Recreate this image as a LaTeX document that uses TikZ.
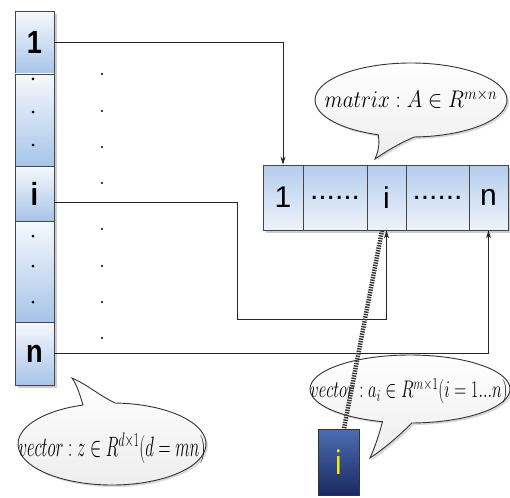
\RequirePackage{fix-cm}
\documentclass[tikz,border=0pt]{standalone}
\usepackage{fontspec}
\usepackage{graphicx}
\setsansfont{Liberation Sans}
\usetikzlibrary{arrows.meta,shadows}
\definecolor{cellblue}{HTML}{A6C4E8}
\definecolor{celltop}{HTML}{F6F9FD}
\definecolor{mblue}{HTML}{B4CDEE}
\definecolor{mlight}{HTML}{EEF3FA}
\definecolor{boxtop}{HTML}{4C6DB2}
\definecolor{boxbot}{HTML}{1A2A62}
\definecolor{edge}{HTML}{454545}
\newcommand{\squeeze}[2]{\scalebox{#1}[1]{#2}}
\tikzset{
  colcell/.style={rectangle, draw=edge, line width=0.8pt, top color=celltop,
    bottom color=cellblue, minimum width=39pt, inner sep=0pt,
    font=\sffamily\bfseries\fontsize{32}{32}\selectfont},
  mcell/.style={rectangle, draw=edge, line width=0.8pt, top color=mblue,
    bottom color=mlight, minimum height=65pt, inner sep=0pt,
    font=\sffamily\fontsize{30}{30}\selectfont},
  conn/.style={draw=black!85, line width=0.8pt},
  tip/.style={-{Stealth[length=8pt,width=5pt]}},
  hatch/.style={draw=black!80, line width=4.5pt, dash pattern=on 1.4pt off 1.1pt},
  bubble/.style={draw=black!80, line width=0.9pt, top color=white,
    bottom color=black!7,
    drop shadow={shadow xshift=2pt, shadow yshift=-2pt, opacity=0.3}},
  bubtext/.style={inner sep=0pt, font=\fontsize{24}{24}\selectfont},
  dotmark/.style={fill=black},
}
\begin{document}
\begin{tikzpicture}[x=1pt,y=-1pt]
\useasboundingbox (0,0) rectangle (510,497);

% shadows behind the column and the row
\fill[black!40, drop shadow={shadow xshift=3pt, shadow yshift=-3pt, opacity=0.4}]
  (15,11) rectangle (54,385);
\fill[black!40, drop shadow={shadow xshift=3pt, shadow yshift=-3pt, opacity=0.4}]
  (263,165) rectangle (508,230);

% column vector z
\node[colcell, minimum height=63pt] (c1) at (34.5,42.5) {\squeeze{0.85}{1}};
\node[colcell, minimum height=92pt] (cd1) at (34.5,120) {};
\node[colcell, minimum height=55pt] (ci) at (34.5,193.5) {\squeeze{0.85}{i}};
\node[colcell, minimum height=101pt] (cd2) at (34.5,271.5) {};
\node[colcell, minimum height=63pt] (cn) at (34.5,353.5) {\squeeze{0.85}{n}};
\foreach \y in {79,112,145,236,266,302}
  \fill[dotmark] (33,\y) circle (1.5);

% vertical ellipsis between column and row
\foreach \y in {74,111,147,183,229,266,302,338}
  \fill[dotmark] (102,\y) circle (1.2);

% matrix A as a row of columns
\node[mcell, minimum width=40pt] (m1) at (283,197.5) {1};
\node[mcell, minimum width=64pt] (md1) at (335,197.5) {......};
\node[mcell, minimum width=39pt] (mi) at (386.5,197.5) {i};
\node[mcell, minimum width=63pt] (md2) at (437.5,197.5) {......};
\node[mcell, minimum width=39pt] (mn) at (488.5,197.5) {n};

% connectors from column entries to matrix columns
\draw[conn, tip] (c1.east) -| (m1.north);
\draw[conn, tip] ([yshift=-8.5pt]ci.east) -| (237,319) -| (mi.south);
\draw[conn, tip] (cn.east) -| (mn.south);

% speech bubbles
\path[bubble] (411,100) ++(88:96 and 37)
  arc[start angle=88, end angle=-250, x radius=96, y radius=37]
  .. controls (380,145) and (378,152) .. (375,159)
  .. controls (388,150) and (402,142) .. cycle;
\node[bubtext] (tA) at (411,99) {\squeeze{0.88}{$matrix: A\in R^{m\times n}$}};

\path[bubble] (410,389) ++(89:100 and 34)
  arc[start angle=89, end angle=-254, x radius=100, y radius=34]
  .. controls (379,435) and (375,447) .. (370,458)
  .. controls (385,448) and (400,435) .. cycle;
\node[bubtext] (ta) at (409,391) {\squeeze{0.69}{$vector: a_i\in R^{m\times 1}(i=1...n)$}};

\path[bubble] (112,444) ++(-88:94 and 41)
  arc[start angle=-88, end angle=252, x radius=94, y radius=41]
  .. controls (80,395) and (77,385) .. (72,378)
  .. controls (88,385) and (100,396) .. cycle;
\node[bubtext] (tz) at (112,448) {\squeeze{0.6}{\fontsize{28}{28}\selectfont$vector: z\in R^{d\times 1}(d=mn)$}};

% single column a_i
\node[rectangle, draw=black!80, line width=0.8pt, top color=boxtop, bottom color=boxbot,
  minimum width=41pt, minimum height=66pt, inner sep=0pt, text=yellow,
  font=\sffamily\fontsize{34}{34}\selectfont] (ibox) at (338.5,462) {\squeeze{0.8}{i}};

% hatched link from the matrix column to a_i
\draw[hatch] ([xshift=-4.5pt]mi.south) -- ([xshift=5.5pt]ibox.north);
\end{tikzpicture}
\end{document}
